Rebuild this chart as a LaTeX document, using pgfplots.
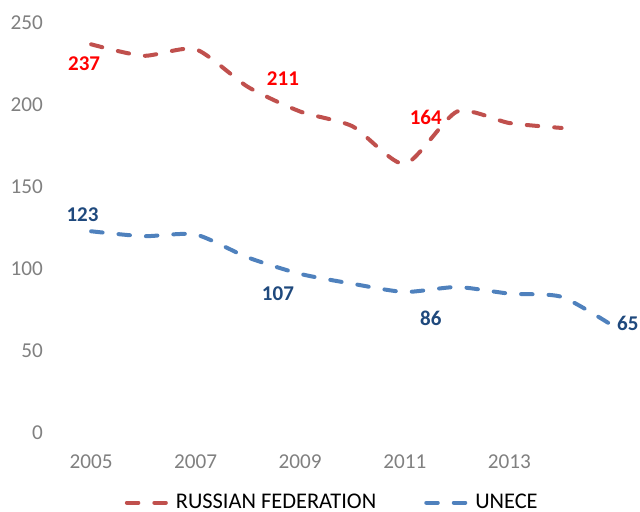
\documentclass[border=0pt]{standalone}
\usepackage{fontspec}
\setmainfont{Carlito}
\usepackage{pgfplots}
\pgfplotsset{compat=1.18}
\definecolor{rfline}{HTML}{C0504D}
\definecolor{unline}{HTML}{4F81BD}
\definecolor{rflab}{HTML}{FF0000}
\definecolor{unlab}{HTML}{1F497D}
\definecolor{tickgray}{HTML}{808080}
\pgfplotsset{
  lab/.style n args={3}{draw=none, mark=none, forget plot,
    nodes near coords={\bfseries #1},
    every node near coord/.append style={anchor=center, xshift=#2, yshift=#3, inner sep=0pt}},
}
\begin{document}
\begin{tikzpicture}
\useasboundingbox (0,0) rectangle (320pt,256pt);
\begin{axis}[
  at={(32.5pt,39.5pt)}, anchor=south west,
  scale only axis, width=287.5pt, height=205pt,
  xmin=2004.5, xmax=2015.5, ymin=0, ymax=250,
  xtick={2005,2007,2009,2011,2013}, ytick={0,50,100,150,200,250},
  axis line style={draw=none}, major tick length=0pt,
  font=\fontsize{10.5pt}{12pt}\selectfont,
  ticklabel style={text=tickgray, font=\fontsize{10.6pt}{12pt}\selectfont},
  yticklabel shift=7.5pt, xticklabel shift=7.5pt,
  /pgf/number format/assume math mode=true,
  /pgf/number format/set thousands separator={},
  clip=false,
  legend columns=2,
  legend style={at={(0.4665,-0.17)}, anchor=center, draw=none, fill=none,
    font=\fontsize{11.2pt}{13pt}\selectfont,
    /tikz/every even column/.append style={column sep=22pt}},
  legend image code/.code={\draw[#1] (0pt,0pt) -- (21.5pt,0pt);},
]
\addplot[rfline, line width=2pt, dash pattern=on 5.75pt off 8pt, line cap=round, smooth, tension=0.4]
  coordinates {(2005,237)(2006,230)(2007,234)(2008,211)(2009,196)(2010,187)(2011,164)(2012,196)(2013,189)(2014,186)};
\addlegendentry{RUSSIAN FEDERATION}
\addplot[unline, line width=2pt, dash pattern=on 5.75pt off 8pt, line cap=round, smooth, tension=0.4]
  coordinates {(2005,123)(2006,120)(2007,121)(2008,107)(2009,97)(2010,91)(2011,86)(2012,89)(2013,85)(2014,83)(2015,65)};
\addlegendentry{UNECE}
\addplot[lab={\color{rflab}237}{-3.5pt}{-9.5pt}] coordinates {(2005,237)};
\addplot[lab={\color{rflab}211}{17.5pt}{4pt}] coordinates {(2008,211)};
\addplot[lab={\color{rflab}164}{10.5pt}{23.5pt}] coordinates {(2011,164)};
\addplot[lab={\color{unlab}123}{-4.3pt}{8.5pt}] coordinates {(2005,123)};
\addplot[lab={\color{unlab}107}{15pt}{-18pt}] coordinates {(2008,107)};
\addplot[lab={\color{unlab}86}{13pt}{-13pt}] coordinates {(2011,86)};
\addplot[lab={\color{unlab}65}{7pt}{1.5pt}] coordinates {(2015,65)};
\end{axis}
\end{tikzpicture}
\end{document}
